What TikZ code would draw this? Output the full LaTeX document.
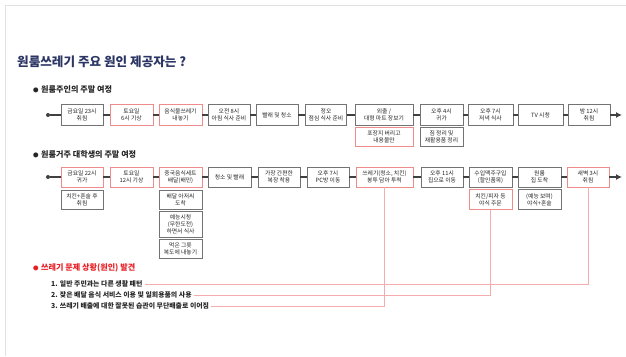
\documentclass[tikz,border=0pt]{standalone}
\usepackage{fontspec}
\setmainfont{Noto Sans CJK KR}
\usetikzlibrary{arrows.meta}
\definecolor{titlenavy}{RGB}{44,54,100}
\definecolor{boxgray}{RGB}{115,115,115}
\definecolor{boxpink}{RGB}{238,140,140}
\definecolor{flowgray}{RGB}{64,64,64}
\definecolor{causepink}{RGB}{246,172,172}
\definecolor{causered}{RGB}{232,30,37}
\definecolor{textdark}{RGB}{38,38,38}
\definecolor{edgegray}{RGB}{226,226,226}

\newcommand{\headdot}{{\fontsize{5.5}{5.5}\selectfont ●}\hspace{2.5pt}}

\tikzset{
  graybox/.style={draw=boxgray, line width=0.9pt, fill=white, text=textdark, align=center, inner sep=1pt, minimum height=20pt, font=\fontsize{5.8}{7}\selectfont},
  pinkbox/.style={graybox, draw=boxpink},
  flow/.style={draw=flowgray, line width=1.6pt},
  startdot/.style={circle, fill=flowgray, inner sep=0pt, minimum size=4pt},
  causeline/.style={draw=causepink, line width=0.8pt},
  headtext/.style={anchor=west, inner sep=0pt, text=textdark, font=\bfseries\fontsize{8.1}{9}\selectfont},
  itemtext/.style={anchor=west, inner sep=2pt, text=textdark, font=\bfseries\fontsize{6.9}{8}\selectfont}
}

\begin{document}
\begin{tikzpicture}[x=1pt,y=-1pt]
\useasboundingbox (0,0) rectangle (626,356);
\draw[edgegray, line width=1pt] (5,356) -- (5,5) -- (626,5);

\node[anchor=west, inner sep=0pt, text=titlenavy, font=\bfseries\fontsize{12.6}{14}\selectfont] (title) at (17,62) {원룸쓰레기 주요 원인 제공자는 ?};

\node[headtext] (ownhead) at (33,89) {\headdot 원룸주인의 주말 여정};

\node[startdot] (ownstart) at (48,115) {};
\node[graybox, minimum width=42pt, minimum height=21pt] (own1) at (82,115) {금요일 23시\\취침};
\node[pinkbox, minimum width=43pt, minimum height=21pt] (own2) at (131.5,115) {토요일\\6시 기상};
\node[pinkbox, minimum width=43pt, minimum height=21pt] (own3) at (180.5,115) {음식물쓰레기\\내놓기};
\node[graybox, minimum width=42pt, minimum height=21pt] (own4) at (229,115) {오전 8시\\아침 식사 준비};
\node[graybox, minimum width=42pt, minimum height=21pt] (own5) at (277,115) {빨래 및 청소};
\node[graybox, minimum width=41pt, minimum height=21pt] (own6) at (326,115) {정오\\점심 식사 준비};
\node[graybox, minimum width=58pt, minimum height=21pt] (own7) at (384,115) {외출 /\\대형 마트 장보기};
\node[graybox, minimum width=43pt, minimum height=21pt] (own8) at (441.5,115) {오후 4시\\귀가};
\node[graybox, minimum width=45pt, minimum height=21pt] (own9) at (490.5,115) {오후 7시\\저녁 식사};
\node[graybox, minimum width=45pt, minimum height=21pt] (own10) at (540.5,115) {TV 시청};
\node[graybox, minimum width=42pt, minimum height=21pt] (own11) at (589,115) {밤 12시\\취침};
\coordinate (ownend) at (622,115);

\node[pinkbox, minimum width=58pt, minimum height=19pt] (own7b) at (384,136.5) {포장지 버리고\\내용물만};
\node[graybox, minimum width=43pt, minimum height=19pt] (own8b) at (441.5,136.5) {짐 정리 및\\재활용품 정리};

\draw[flow] (ownstart) -- (own1);
\draw[flow] (own1) -- (own2);
\draw[flow] (own2) -- (own3);
\draw[flow] (own3) -- (own4);
\draw[flow] (own4) -- (own5);
\draw[flow] (own5) -- (own6);
\draw[flow] (own6) -- (own7);
\draw[flow] (own7) -- (own8);
\draw[flow] (own8) -- (own9);
\draw[flow] (own9) -- (own10);
\draw[flow] (own10) -- (own11);
\draw[flow, -{Latex[length=6pt,width=6pt]}] (own11) -- (ownend);

\node[headtext] (stuhead) at (33,154) {\headdot 원룸거주 대학생의 주말 여정};

\node[startdot] (stustart) at (48,177) {};
\node[pinkbox, minimum width=42pt] (stu1) at (82,177) {금요일 22시\\귀가};
\node[pinkbox, minimum width=43pt] (stu2) at (131.5,177) {토요일\\12시 기상};
\node[pinkbox, minimum width=43pt] (stu3) at (180.5,177) {중국음식세트\\배달(배민)};
\node[graybox, minimum width=43pt] (stu4) at (229.5,177) {청소 및 빨래};
\node[graybox, minimum width=42pt] (stu5) at (279,177) {가장 간편한\\복장 착용};
\node[graybox, minimum width=42pt] (stu6) at (328,177) {오후 7시\\PC방 이동};
\node[pinkbox, minimum width=57pt] (stu7) at (384.5,177) {쓰레기(청소, 치킨)\\봉투 담아 투척};
\node[graybox, minimum width=42pt] (stu8) at (442,177) {오후 11시\\집으로 이동};
\node[graybox, minimum width=43pt] (stu9) at (490.5,177) {수입맥주구입\\(할인품목)};
\node[graybox, minimum width=43pt] (stu10) at (539.5,177) {원룸\\집 도착};
\node[pinkbox, minimum width=42pt] (stu11) at (588,177) {새벽 3시\\취침};
\coordinate (stuend) at (622,177);

\node[graybox, minimum width=42pt, minimum height=19pt] (stu1b) at (82,199.5) {치킨+혼술 후\\취침};
\node[graybox, minimum width=43pt, minimum height=19pt] (stu3b) at (180.5,199.5) {배달 아저씨\\도착};
\node[graybox, minimum width=43pt, minimum height=26pt] (stu3c) at (180.5,224) {예능시청\\(무한도전)\\하면서 식사};
\node[graybox, minimum width=43pt, minimum height=19pt] (stu3d) at (180.5,248.5) {먹은 그릇\\복도에 내놓기};
\node[pinkbox, minimum width=43pt] (stu9b) at (490.5,199.5) {치킨/피자 등\\야식 주문};
\node[graybox, minimum width=43pt] (stu10b) at (539.5,199.5) {(예능 보며)\\야식+혼술};

\draw[flow] (stustart) -- (stu1);
\draw[flow] (stu1) -- (stu2);
\draw[flow] (stu2) -- (stu3);
\draw[flow] (stu3) -- (stu4);
\draw[flow] (stu4) -- (stu5);
\draw[flow] (stu5) -- (stu6);
\draw[flow] (stu6) -- (stu7);
\draw[flow] (stu7) -- (stu8);
\draw[flow] (stu8) -- (stu9);
\draw[flow] (stu9) -- (stu10);
\draw[flow] (stu10) -- (stu11);
\draw[flow, -{Latex[length=6pt,width=6pt]}] (stu11) -- (stuend);

\node[headtext, text=causered] (causehead) at (33,268) {\headdot 쓰레기 문제 상황(원인) 발견};
\node[itemtext] (cause1) at (49,284) {1. 일반 주민과는 다른 생활 패턴};
\node[itemtext] (cause2) at (49,295) {2. 잦은 배달 음식 서비스 이용 및 일회용품의 사용};
\node[itemtext] (cause3) at (49,306) {3. 쓰레기 배출에 대한 잘못된 습관이 무단배출로 이어짐};

\draw[causeline] (cause1.east) -| (stu11.south);
\draw[causeline] (cause2.east) -| (stu9b.south);
\draw[causeline] (cause3.east) -| (stu7.south);

\end{tikzpicture}
\end{document}
